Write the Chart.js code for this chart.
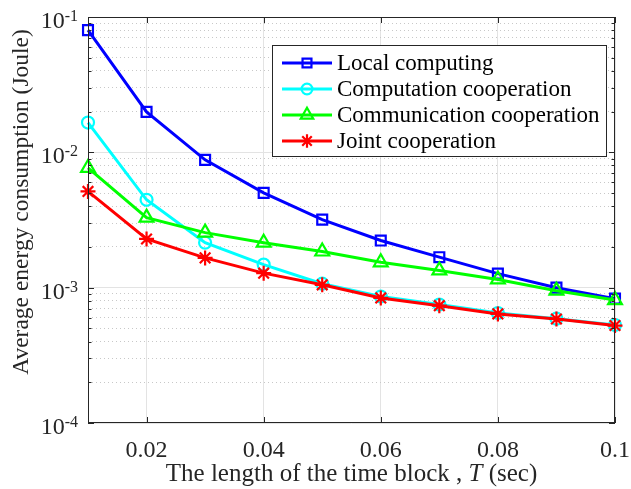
<!DOCTYPE html>
<html>
<head>
<meta charset="utf-8">
<script src="https://cdn.jsdelivr.net/npm/chart.js@4.4.0/dist/chart.umd.min.js"></script>
<style>
  html, body { margin: 0; padding: 0; background: #fff; }
</style>
</head>
<body>
<canvas id="myChart" width="631" height="489"></canvas>
<script>
// data
const blockLength = [0.01, 0.02, 0.03, 0.04, 0.05, 0.06, 0.07, 0.08, 0.09, 0.1];
const localComputing = [0.080, 0.0199, 0.0088, 0.00502, 0.00318, 0.00223, 0.00168, 0.00127, 0.00100, 0.00083];
const computationCoop = [0.0166, 0.00446, 0.00215, 0.00148, 0.00107, 0.00086, 0.00075, 0.00065, 0.00059, 0.00053];
const communicationCoop = [0.00767, 0.00329, 0.00255, 0.00215, 0.00185, 0.00154, 0.00134, 0.00115, 0.00095, 0.00081];
const jointCoop = [0.00514, 0.00229, 0.00166, 0.00128, 0.00105, 0.00084, 0.000736, 0.00064, 0.000587, 0.000525];

const seriesNames = ['Local computing', 'Computation cooperation', 'Communication cooperation', 'Joint cooperation'];
const seriesColors = ['#0000ff', '#00ffff', '#00ff00', '#ff0000'];
const seriesMarkers = ['rect', 'circle', 'triangle', 'star'];
const markerSizes = [7, 6, 8, 7.5];

const xTicks = [0.02, 0.04, 0.06, 0.08, 0.1];
const xTickLabels = ['0.02', '0.04', '0.06', '0.08', '0.1'];
const yDecades = [1e-4, 1e-3, 1e-2, 1e-1];
const yExponents = ['-4', '-3', '-2', '-1'];

const FONT = '"Liberation Serif", "Times New Roman", serif';
const AXIS = '#262626';

// minor log ticks 2..9 inside each decade
const yMinor = [];
yDecades.slice(0, -1).forEach(d => {
  for (let k = 2; k <= 9; k++) yMinor.push(d * k);
});
const isMajor = v => yDecades.some(d => Math.abs(v / d - 1) < 1e-6);

const allSeries = [localComputing, computationCoop, communicationCoop, jointCoop];
const datasets = allSeries.map((vals, i) => ({
  label: seriesNames[i],
  data: blockLength.map((x, j) => ({x: x, y: vals[j]})),
  borderColor: seriesColors[i],
  backgroundColor: 'rgba(0,0,0,0)',
  pointBorderColor: seriesColors[i],
  pointBackgroundColor: 'rgba(0,0,0,0)',
  pointStyle: seriesMarkers[i],
  pointRadius: markerSizes[i],
  pointBorderWidth: 2.2,
  borderWidth: 3,
  tension: 0,
  clip: false,
  order: 3 - i,
}));

const decorPlugin = {
  id: 'decor',
  afterDraw(chart) {
    const ctx = chart.ctx;
    const a = chart.chartArea;
    const xs = chart.scales.x, ys = chart.scales.y;
    ctx.save();

    // axes box
    ctx.strokeStyle = AXIS;
    ctx.lineWidth = 1;
    ctx.strokeRect(a.left + 0.5, a.top + 0.5, a.right - a.left - 1, a.bottom - a.top - 1);

    // inward ticks
    ctx.beginPath();
    xTicks.forEach(v => {
      const px = Math.round(xs.getPixelForValue(v)) + 0.5;
      ctx.moveTo(px, a.bottom); ctx.lineTo(px, a.bottom - 6);
      ctx.moveTo(px, a.top); ctx.lineTo(px, a.top + 6);
    });
    yDecades.concat(yMinor).forEach(v => {
      const py = Math.round(ys.getPixelForValue(v)) + 0.5;
      const len = isMajor(v) ? 6 : 3.5;
      ctx.moveTo(a.left, py); ctx.lineTo(a.left + len, py);
      ctx.moveTo(a.right, py); ctx.lineTo(a.right - len, py);
    });
    ctx.stroke();

    // tick labels
    ctx.fillStyle = AXIS;
    ctx.font = '24px ' + FONT;
    ctx.textAlign = 'center';
    ctx.textBaseline = 'alphabetic';
    xTicks.forEach((v, i) => {
      ctx.fillText(xTickLabels[i], xs.getPixelForValue(v), 457);
    });
    yDecades.forEach((v, i) => {
      const py = ys.getPixelForValue(v);
      ctx.font = '16px ' + FONT;
      ctx.textAlign = 'right';
      const supW = ctx.measureText(yExponents[i]).width;
      ctx.fillText(yExponents[i], a.left - 10, py + 4);
      ctx.font = '24px ' + FONT;
      ctx.fillText('10', a.left - 10 - supW, py + 11);
    });

    // axis titles
    const tf = '25px ' + FONT;
    ctx.font = tf;
    ctx.textAlign = 'left';
    const p1 = 'The length of the time block , ';
    const p2 = 'T';
    const p3 = ' (sec)';
    const w1 = ctx.measureText(p1).width, w3 = ctx.measureText(p3).width;
    ctx.font = 'italic ' + tf;
    const w2 = ctx.measureText(p2).width;
    const tx = (a.left + a.right) / 2 - (w1 + w2 + w3) / 2;
    const ty = 481;
    ctx.font = tf;
    ctx.fillText(p1, tx, ty);
    ctx.font = 'italic ' + tf;
    ctx.fillText(p2, tx + w1, ty);
    ctx.font = tf;
    ctx.fillText(p3, tx + w1 + w2, ty);

    ctx.save();
    ctx.translate(28, 202);
    ctx.rotate(-Math.PI / 2);
    ctx.textAlign = 'center';
    ctx.font = '23.5px ' + FONT;
    ctx.fillText('Average energy consumption (Joule)', 0, 0);
    ctx.restore();

    // legend
    const lx = 272, ly = 45, lw = 334, lh = 111;
    ctx.fillStyle = '#fff';
    ctx.fillRect(lx, ly, lw, lh);
    ctx.strokeStyle = AXIS;
    ctx.lineWidth = 1;
    ctx.strokeRect(lx + 0.5, ly + 0.5, lw, lh);
    const rowY = [63, 89, 115, 141];
    seriesNames.forEach((name, i) => {
      const y = rowY[i];
      ctx.strokeStyle = seriesColors[i];
      ctx.lineWidth = 3;
      ctx.beginPath();
      ctx.moveTo(282, y); ctx.lineTo(332, y);
      ctx.stroke();
      ctx.lineWidth = 2.2;
      ctx.fillStyle = 'rgba(0,0,0,0)';
      Chart.helpers.drawPoint(ctx, {
        pointStyle: seriesMarkers[i], radius: markerSizes[i] * 0.9, borderWidth: 2.2, rotation: 0
      }, 307, y);
      ctx.fillStyle = '#000';
      ctx.font = '23px ' + FONT;
      ctx.textAlign = 'left';
      ctx.textBaseline = 'middle';
      ctx.fillText(name, 337, y + 1);
    });

    ctx.restore();
  }
};

new Chart(document.getElementById('myChart').getContext('2d'), {
  type: 'line',
  data: {datasets: datasets},
  options: {
    responsive: false,
    animation: false,
    devicePixelRatio: 1,
    layout: {padding: {top: 17, right: 16, left: 0, bottom: 0}},
    plugins: {legend: {display: false}, tooltip: {enabled: false}},
    scales: {
      x: {
        type: 'linear',
        min: 0.01,
        max: 0.1,
        afterBuildTicks: s => { s.ticks = xTicks.map(v => ({value: v})); },
        afterFit: s => { s.height = 66; },
        ticks: {display: false},
        grid: {color: '#e3e3e3', lineWidth: 1, drawTicks: false},
        border: {display: false},
      },
      y: {
        type: 'logarithmic',
        min: 1e-4,
        max: 1e-1,
        afterBuildTicks: s => {
          s.ticks = yDecades.concat(yMinor).map(v => ({value: v, major: isMajor(v)}));
        },
        afterFit: s => { s.width = 88; },
        ticks: {display: false},
        grid: {
          color: c => (c.tick && isMajor(c.tick.value)) ? '#e3e3e3' : '#c8c8c8',
          lineWidth: 1,
          drawTicks: false,
        },
        border: {
          display: false,
          dash: c => (c.tick && !isMajor(c.tick.value)) ? [1, 3] : [],
        },
      },
    },
  },
  plugins: [decorPlugin],
});
</script>
</body>
</html>
